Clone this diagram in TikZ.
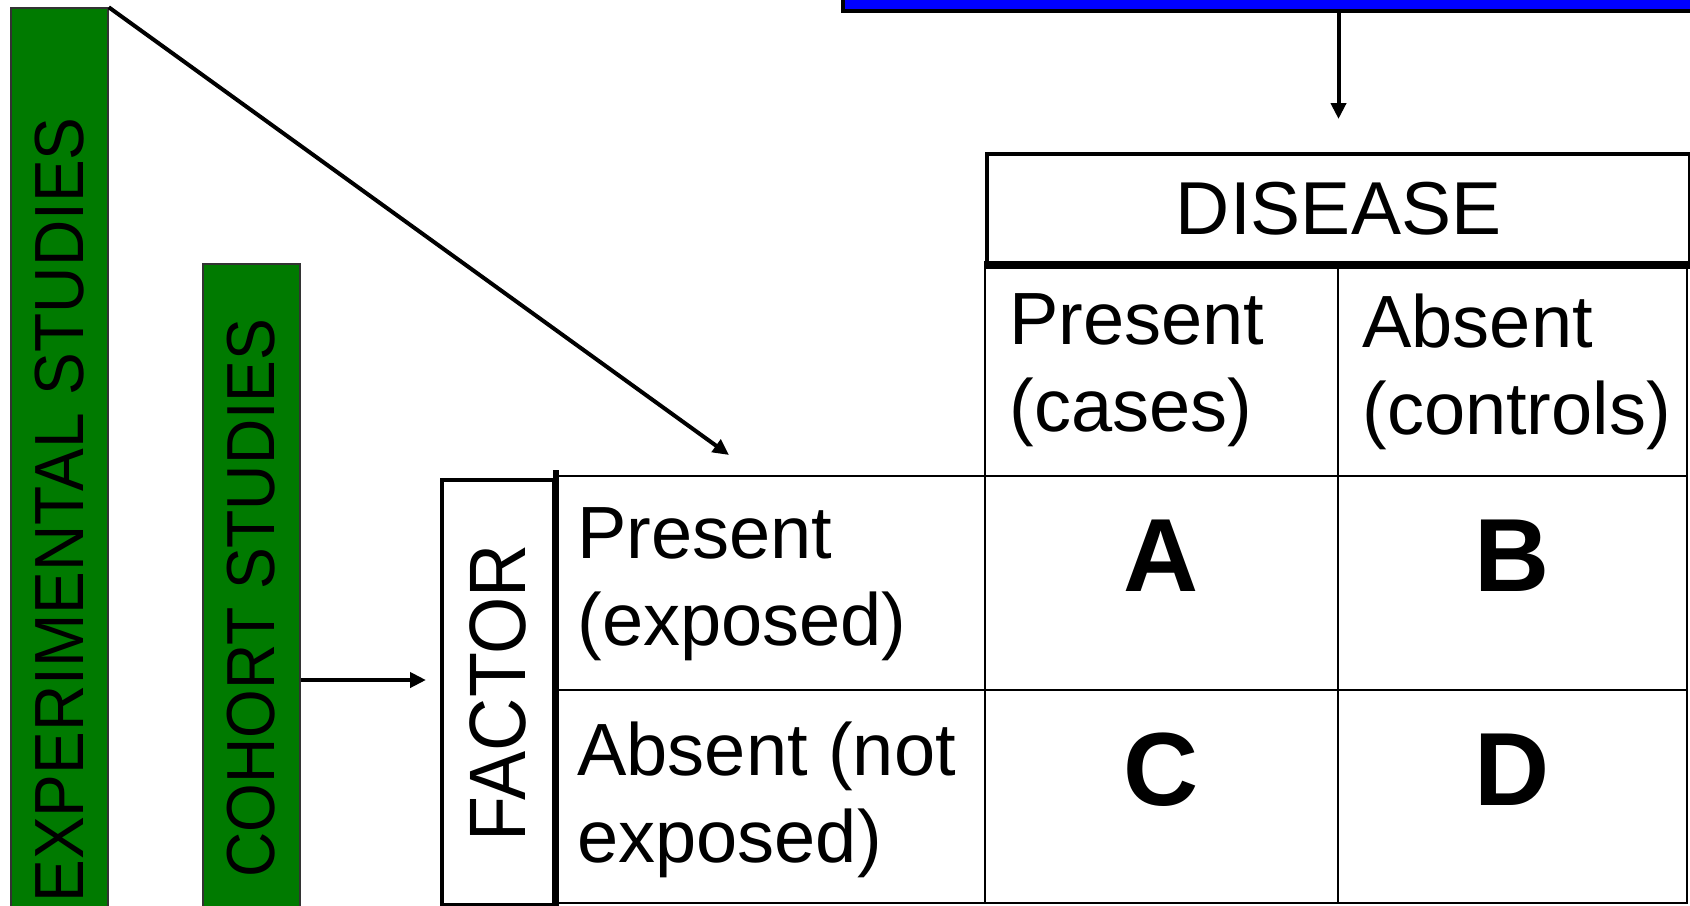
\documentclass[tikz,border=0pt]{standalone}
\usepackage{fontspec}
\setmainfont{Liberation Sans}
\newfontfamily\sidefont[FakeStretch=0.92]{Liberation Sans}
\usetikzlibrary{positioning,arrows.meta}

\definecolor{studygreen}{RGB}{0,122,0}

\tikzset{
  studybox/.style={draw=black!80, line width=0.75pt, fill=studygreen, rotate=90,
    inner sep=0pt, minimum height=48.5pt, font=\sidefont\fontsize{34}{40}\selectfont},
  tablecell/.style={draw, line width=1.25pt, anchor=north west, inner sep=0pt, outer sep=0pt},
  celltext/.style={anchor=north west, align=left, inner sep=0pt,
    font=\fontsize{37}{43.5}\selectfont},
  bigletter/.style={anchor=base, inner sep=0pt, font=\fontsize{52}{60}\selectfont\bfseries},
  link/.style={->, line width=2pt}
}

\begin{document}
\begin{tikzpicture}[x=0.5pt, y=-0.5pt, >={Triangle[length=8pt,width=7.5pt]}]
  \useasboundingbox (0,0) rectangle (1690,905);

  % study designs
  \node[studybox, minimum width=502pt, font=\sidefont\fontsize{34.8}{40}\selectfont] (expbox) at (59.5,510) {EXPERIMENTAL STUDIES};
  \node[studybox, minimum width=334pt] (cohortbox) at (251.5,598) {COHORT STUDIES};

  % box at the top, cut off
  \node[draw, fill=blue, line width=2pt, anchor=south west, minimum width=500pt, minimum height=60pt] (topbox) at (841,13) {};

  % two by two table
  \node[draw, line width=2pt, anchor=north west, minimum width=351.5pt, minimum height=55pt, inner sep=0pt,
    font=\fontsize{37.5}{44}\selectfont] (disease) at (985,152) {DISEASE};

  \node[tablecell, minimum width=176.5pt, minimum height=107pt] (cases) at (985,262) {};
  \node[tablecell, minimum width=174.5pt, minimum height=107pt] (controls) at (1338,262) {};
  \node[tablecell, minimum width=215.5pt, minimum height=107pt] (exposed) at (554,476) {};
  \node[tablecell, minimum width=176.5pt, minimum height=107pt] (cellA) at (985,476) {};
  \node[tablecell, minimum width=174.5pt, minimum height=107pt] (cellB) at (1338,476) {};
  \node[tablecell, minimum width=215.5pt, minimum height=106.5pt] (unexposed) at (554,690) {};
  \node[tablecell, minimum width=176.5pt, minimum height=106.5pt] (cellC) at (985,690) {};
  \node[tablecell, minimum width=174.5pt, minimum height=106.5pt] (cellD) at (1338,690) {};
  \draw[line width=3pt] (disease.south west) -- (disease.south east);

  \node[celltext] (casestext) at ([xshift=12pt,yshift=-15.5pt]cases.north west) {Present\\(cases)};
  \node[celltext] (controlstext) at ([xshift=12pt,yshift=-15.5pt]controls.north west) {Absent\\(controls)};
  \node[celltext] (exposedtext) at ([xshift=11.5pt,yshift=-15.5pt]exposed.north west) {Present\\(exposed)};
  \node[celltext] (unexposedtext) at ([xshift=11.5pt,yshift=-15.5pt]unexposed.north west) {Absent (not\\exposed)};

  \node[bigletter] (A) at ([yshift=-57.5pt]cellA.north) {A};
  \node[bigletter] (B) at ([yshift=-57.5pt]cellB.north) {B};
  \node[bigletter] (C) at ([yshift=-57.5pt]cellC.north) {C};
  \node[bigletter] (D) at ([yshift=-57.5pt]cellD.north) {D};

  \node[draw, line width=2pt, rotate=90, minimum width=212.5pt, minimum height=56pt, inner sep=0pt,
    font=\sidefont\fontsize{40}{48}\selectfont] (factor) at (498,692.5) {FACTOR};
  \draw[line width=3pt] ([yshift=4pt]factor.south east) -- (factor.south west);

  % arrows
  \coordinate (tablein) at (729,455);
  \coordinate (factorin) at (426,680);
  \draw[link] (expbox.south east) -- (tablein);
  \draw[link] (factorin -| cohortbox.south) -- (factorin);
  \draw[link] (topbox.south -| disease.north) -- ([yshift=16.5pt]disease.north);
\end{tikzpicture}
\end{document}
